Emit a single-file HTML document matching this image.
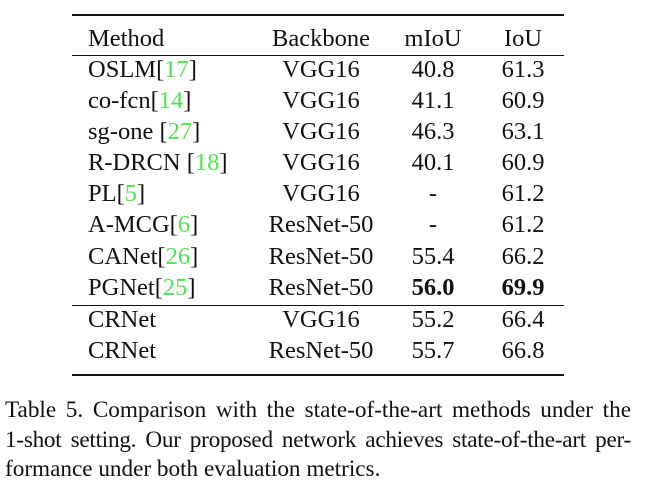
<!DOCTYPE html>
<html><head><meta charset="utf-8"><style>
body{margin:0;width:647px;height:499px;background:#fff;position:relative;overflow:hidden;font-family:"Liberation Serif",serif;color:#111}
.r{position:absolute;left:72px;width:492px;background:#111}
.t{position:absolute;font-size:24.5px;line-height:24px;white-space:nowrap}
.c{transform:translateX(-50%)}
.g{color:#4ee44e}
.cap{position:absolute;left:5px;width:626px;font-size:23.2px;line-height:29.5px;top:396px}
.cap span{display:block;text-align:justify;text-align-last:justify;white-space:nowrap}
</style></head><body>
<div class="r" style="top:14px;height:2px"></div>
<div class="r" style="top:55px;height:1px"></div>
<div class="r" style="top:305px;height:1px"></div>
<div class="r" style="top:374px;height:2px"></div>

<div class="t" style="left:88px;top:27px">Method</div>
<div class="t c" style="left:321px;top:27px">Backbone</div>
<div class="t c" style="left:433px;top:27px">mIoU</div>
<div class="t c" style="left:523px;top:27px">IoU</div>

<div class="t" style="left:88px;top:58px">OSLM[<span class="g">17</span>]</div>
<div class="t" style="left:88px;top:89px">co-fcn[<span class="g">14</span>]</div>
<div class="t" style="left:88px;top:120px">sg-one [<span class="g">27</span>]</div>
<div class="t" style="left:88px;top:151px">R-DRCN [<span class="g">18</span>]</div>
<div class="t" style="left:88px;top:182px">PL[<span class="g">5</span>]</div>
<div class="t" style="left:88px;top:213px">A-MCG[<span class="g">6</span>]</div>
<div class="t" style="left:88px;top:245px">CANet[<span class="g">26</span>]</div>
<div class="t" style="left:88px;top:276px">PGNet[<span class="g">25</span>]</div>
<div class="t" style="left:88px;top:308px">CRNet</div>
<div class="t" style="left:88px;top:339px">CRNet</div>

<div class="t c" style="left:321px;top:58px">VGG16</div>
<div class="t c" style="left:321px;top:89px">VGG16</div>
<div class="t c" style="left:321px;top:120px">VGG16</div>
<div class="t c" style="left:321px;top:151px">VGG16</div>
<div class="t c" style="left:321px;top:182px">VGG16</div>
<div class="t c" style="left:321px;top:213px">ResNet-50</div>
<div class="t c" style="left:321px;top:245px">ResNet-50</div>
<div class="t c" style="left:321px;top:276px">ResNet-50</div>
<div class="t c" style="left:321px;top:308px">VGG16</div>
<div class="t c" style="left:321px;top:339px">ResNet-50</div>

<div class="t c" style="left:433px;top:58px">40.8</div>
<div class="t c" style="left:433px;top:89px">41.1</div>
<div class="t c" style="left:433px;top:120px">46.3</div>
<div class="t c" style="left:433px;top:151px">40.1</div>
<div class="t c" style="left:433px;top:182px">-</div>
<div class="t c" style="left:433px;top:213px">-</div>
<div class="t c" style="left:433px;top:245px">55.4</div>
<div class="t c" style="left:433px;top:276px"><b>56.0</b></div>
<div class="t c" style="left:433px;top:308px">55.2</div>
<div class="t c" style="left:433px;top:339px">55.7</div>

<div class="t c" style="left:523px;top:58px">61.3</div>
<div class="t c" style="left:523px;top:89px">60.9</div>
<div class="t c" style="left:523px;top:120px">63.1</div>
<div class="t c" style="left:523px;top:151px">60.9</div>
<div class="t c" style="left:523px;top:182px">61.2</div>
<div class="t c" style="left:523px;top:213px">61.2</div>
<div class="t c" style="left:523px;top:245px">66.2</div>
<div class="t c" style="left:523px;top:276px"><b>69.9</b></div>
<div class="t c" style="left:523px;top:308px">66.4</div>
<div class="t c" style="left:523px;top:339px">66.8</div>

<div class="cap">
<span>Table 5. Comparison with the state-of-the-art methods under the</span>
<span style="letter-spacing:-0.25px">1-shot setting. Our proposed network achieves state-of-the-art per-</span>
<div style="white-space:nowrap">formance under both evaluation metrics.</div>
</div>
</body></html>
